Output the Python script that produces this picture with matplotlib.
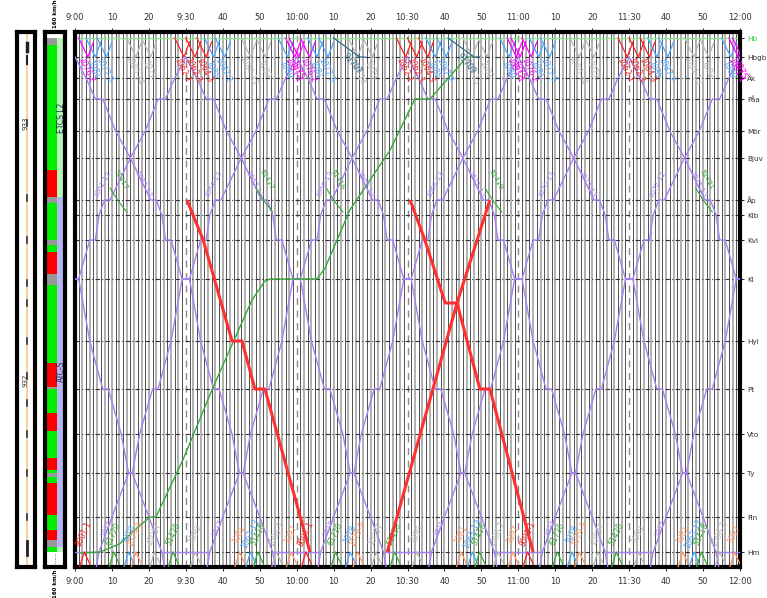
import numpy as np
import matplotlib
matplotlib.use('Agg')
import matplotlib.pyplot as plt

# Stations (position along line, km from Hb)
stations = ['Hb', 'Hbgb', 'Åk', 'Påa', 'Mör', 'Bjuv', 'Åp', 'Klb', 'Kvi', 'Kl',
            'Hyl', 'Pt', 'Vto', 'Ty', 'Fin', 'Hm']
station_km = [0.0, 1.9, 4.0, 6.1, 9.3, 12.0, 16.2, 17.7, 20.2, 24.1,
              30.3, 35.1, 39.6, 43.5, 47.9, 51.4]
km = dict(zip(stations, station_km))

time_ticks = [0, 10, 20, 30, 40, 50, 60, 70, 80, 90, 100, 110, 120, 130, 140, 150, 160, 170, 180]
time_labels = ['9:00', '10', '20', '9:30', '40', '50', '10:00', '10', '20', '10:30', '40', '50',
               '11:00', '10', '20', '11:30', '40', '50', '12:00']

# Regional trains (purple): up train timing relative to crossing at Kl (minutes)
reg_stops = ['Hm', 'Fin', 'Ty', 'Ty', 'Vto', 'Pt', 'Pt', 'Hyl', 'Kl', 'Kl', 'Kvi', 'Kvi',
             'Klb', 'Åp', 'Åp', 'Bjuv', 'Mör', 'Påa', 'Påa', 'Åk', 'Hbgb']
reg_offsets = [-23.5, -20.0, -15.5, -14.5, -12.5, -9.0, -7.5, -4.0, -1.0, 1.0, 4.0, 5.5,
               6.5, 8.0, 9.5, 15.0, 19.0, 22.5, 24.5, 27.0, 30.0]
reg_crossings = [-60, -30, 0, 30, 60, 90, 120, 150, 180, 210, 240]
reg_numbers = ['1059', '1061', '1063', '1065', '1067', '1069', '1071', '1073', '1075', '1077', '1079']

# Red trains (minutes after 9:00, km)
red1_t = [30.3, 34.7, 42.5, 45.2, 48.7, 51.4, 63.6]
red1_km = [16.2, 20.2, 30.3, 30.3, 35.1, 35.1, 51.4]
red2_t = [90.7, 94.7, 100.2, 103.4, 109.6, 112.3, 124.0]
red2_km = [16.2, 20.2, 26.5, 26.5, 35.1, 35.1, 51.4]
red3_t = [84.5, 103.4, 112.3]
red3_km = [51.4, 26.5, 16.2]

# Freight train (green)
frt_t = [1.4, 6.8, 12.0, 16.8, 20.3, 21.9, 29.2, 37.4, 47.9, 51.4, 52.8, 65.5, 67.7, 74.4,
         85.3, 92.0, 96.1, 106.1, 107.7]
frt_km = [51.5, 51.4, 50.6, 49.0, 47.9, 47.9, 42.2, 34.9, 26.2, 24.3, 24.1, 24.1, 23.0, 17.2,
          11.2, 6.1, 6.1, 1.9, 1.9]

# Short freight moves at Åp (green)
apg_t = [11.5, 51.0, 70.0, 113.0, 170.0]
apg_labels = ['51417', '51417', '51418', '51419', '51421']

# Hourly pattern of short moves near Hb-Hbgb
top_min = [-2, 1, 3, 6, 14, 18, 27, 30, 33, 35, 38, 45, 49, 55, 57]
top_col = ['#ff00ff', '#ff00ff', '#4da6ff', '#4da6ff', '#b8b8b8', '#b8b8b8', '#ff2020', '#ff2020',
           '#ff2020', '#4da6ff', '#4da6ff', '#b8b8b8', '#b8b8b8', '#4da6ff', '#ff00ff']
top_lab = ['1075', '1076-2', '1081', '1077-5', '1080-14', '1079', '1062-1', '1062-3', '1064-3',
           '1085', '1087-2', '1084-13', '1083', '1089', '1091-1']
teal_t = [70, 101]
teal_lab = ['91707', '91709']

# Hourly pattern near Hm
bot_min = [1, 9, 13, 15, 20, 25, 31, 43, 46, 48, 53, 57]
bot_col = ['#ff2020', '#33aa33', '#4da6ff', '#ff9966', '#b8b8b8', '#33aa33', '#b8b8b8',
           '#ff9966', '#4da6ff', '#33aa33', '#b8b8b8', '#ff9966']
bot_lab = ['8001-1', '61720', '1078', '1079-9', '10097', '51420', '1090', '1081', '1063-13',
           '51418', '1096-2', '1097']

# Left panel: signalling / speed bar segments (km from, km to, type)
seg_from = [0.0, 0.7, 13.2, 15.9, 16.5, 20.2, 20.7, 21.4, 23.6, 24.7, 32.5, 34.9, 35.1, 37.5,
            39.3, 42.0, 43.2, 43.5, 43.9, 44.5, 47.7, 49.2, 50.2, 50.9]
seg_to = [0.7, 13.2, 15.9, 16.5, 20.2, 20.7, 21.4, 23.6, 24.7, 32.5, 34.9, 35.1, 37.5, 39.3,
          42.0, 43.2, 43.5, 43.9, 44.5, 47.7, 49.2, 50.2, 50.9, 51.4]
seg_type = ['gray', 'green', 'red', 'gray', 'green', 'gray', 'green', 'red', 'gray', 'green',
            'red', 'gray', 'green', 'red', 'green', 'red', 'green', 'gray', 'green', 'red',
            'green', 'red', 'gray', 'green']
sys_from = [0.0, 15.9, 50.9]
sys_to = [15.9, 50.9, 51.4]
sys_name = ['ETCS L2', 'ATC-S', '']
track_marks = [8.5, 16.0, 20.2, 24.5, 26.5, 30.3, 33.8, 36.5, 39.6, 43.5, 47.9]

PURPLE = '#a77ff7'
YTOP, YBOT = -0.6, 52.9

fig = plt.figure(figsize=(7.67, 5.98), dpi=100)
W, H = 767.0, 598.0
def rect(x0, x1, y0, y1):
    return [x0 / W, 1 - y1 / H, (x1 - x0) / W, (y1 - y0) / H]

ax = fig.add_axes(rect(75, 740, 32, 567))
axA = fig.add_axes(rect(17, 35, 32, 567))
axB = fig.add_axes(rect(45, 65, 32, 567))

# --- main grid: one line per minute, gray on even, black on odd ---
for m in range(1, 180):
    if m % 30 == 0:
        ax.axvline(m, color='#8a8a8a', lw=1.0, ls=(0, (5, 4)), zorder=1)
    elif m % 2 == 0:
        ax.axvline(m, color='#b0b0b0', lw=1.4, zorder=1)
    else:
        ax.axvline(m, color='#222222', lw=0.55, zorder=1)
for s, k in zip(stations, station_km):
    if s == 'Hb':
        ax.axhline(k, color='#8fe88f', lw=1.0, zorder=2)
    else:
        ax.axhline(k, color='#333333', lw=0.8, ls=(0, (4, 2, 1, 2)), zorder=2)

# --- regional trains ---
for T, num in zip(reg_crossings, reg_numbers):
    tu = [T + o for o in reg_offsets]
    ku = [km[s] for s in reg_stops]
    ax.plot([T - 24.5] + tu, [53.5] + ku, color=PURPLE, lw=1.0, zorder=4)
    td = [T - o for o in reg_offsets]
    ax.plot([T + 24.5] + td, [53.5] + ku, color=PURPLE, lw=1.0, zorder=4)
    ax.plot([T + 23.5, T + 36], [km['Hm'], km['Hm']], color=PURPLE, lw=1.0, zorder=4)
    if 0 < T - 10 < 178:
        ax.text(T - 11.5, 14.6, num + '-13', color=PURPLE, fontsize=5, rotation=-62,
                ha='center', va='center', zorder=6)
    if 0 < T + 9 < 178:
        ax.text(T + 7.5, 14.6, str(int(num) - 1) + '-12', color=PURPLE, fontsize=5, rotation=62,
                ha='center', va='center', zorder=6)
    if 0 < T - 21 < 178:
        ax.text(T - 21.5, 49.0, str(int(num) - 50), color=PURPLE, fontsize=5, rotation=65,
                ha='center', va='center', zorder=6)

# --- green freight ---
ax.plot(frt_t, frt_km, color='#33aa33', lw=1.0, zorder=5)
for t, lab in zip(apg_t, apg_labels):
    ax.plot([t - 2, t, t + 2.5], [15.0, 16.2, 17.4], color='#33aa33', lw=0.8, zorder=6)
    ax.text(t + 1, 14.2, lab, color='#33aa33', fontsize=5, rotation=-60, ha='center',
            va='center', zorder=6)

# --- red trains ---
for tt, kk in [(red1_t, red1_km), (red2_t, red2_km), (red3_t, red3_km)]:
    ax.plot(tt, kk, color='#ff3030', lw=2.2, zorder=7, solid_capstyle='butt')

# --- terminal moves ---
for h in [0, 60, 120, 180]:
    for m, c, lab in zip(top_min, top_col, top_lab):
        t = h + m
        if t < -1 or t > 180:
            continue
        ax.plot([t, t + 2.5, t + 4], [0.0, 1.9, 0.4], color=c, lw=0.9, zorder=5)
        ax.text(t + 2, 3.2, lab, color=c, fontsize=5.5, rotation=-65, ha='center', va='center',
                zorder=6)
    for m, c, lab in zip(bot_min, bot_col, bot_lab):
        t = h + m
        if t < 0 or t > 178:
            continue
        ax.plot([t, t + 1.5, t + 3], [53.2, 51.4, 52.6], color=c, lw=0.9, zorder=5)
        ax.text(t + 1.5, 49.6, lab, color=c, fontsize=5.5, rotation=65, ha='center', va='center',
                zorder=6)
for t, lab in zip(teal_t, teal_lab):
    ax.plot([t, t + 7, t + 8.5], [0.0, 1.9, 1.9], color='#2e6f8e', lw=0.9, zorder=5)
    ax.text(t + 5, 2.6, lab, color='#2e6f8e', fontsize=5.5, rotation=-50, ha='center',
            va='center', zorder=6)

ax.set_xlim(0, 180)
ax.set_ylim(YBOT, YTOP)
ax.set_xticks(time_ticks)
ax.set_xticklabels(time_labels, fontsize=6, color='#333333')
ax.tick_params(axis='x', top=True, labeltop=True, bottom=True, labelbottom=True,
               length=3, width=0.6, pad=4)
ax.yaxis.tick_right()
ax.set_yticks(station_km)
ax.set_yticklabels(stations, fontsize=5.2, color='#333333')
ax.get_yticklabels()[0].set_color('#33cc33')
ax.tick_params(axis='y', length=3, width=0.6, pad=2)
for sp in ax.spines.values():
    sp.set_linewidth(3)

# --- panel A: track ---
axA.axvline(0.55, color='#f7c790', lw=1.2)
for k in track_marks:
    axA.plot([0.55, 0.55], [k - 0.3, k + 0.3], color='#333333', lw=1.2)
axA.plot([0.55, 0.55], [0.5, 1.3], color='#222222', lw=2.5)
axA.plot([0.55, 0.55], [1.8, 2.6], color='#222222', lw=1.5)
axA.plot([0.55, 0.55], [50.3, 51.7], color='#222222', lw=2.0)
axA.text(0.45, 8.5, '933', fontsize=5, rotation=90, ha='center', va='center', color='#333333')
axA.text(0.45, 34.2, '932', fontsize=5, rotation=90, ha='center', va='center', color='#333333')
axA.set_xlim(0, 1)
axA.set_ylim(YBOT, YTOP)
axA.set_xticks([])
axA.set_yticks([])
for sp in axA.spines.values():
    sp.set_linewidth(3)

# --- panel B: speed / signalling ---
colmap = {'green': '#00ee00', 'red': '#ff0000', 'gray': '#999999'}
for a, b, c in zip(seg_from, seg_to, seg_type):
    axB.fill_between([0.08, 0.6], a, b, color=colmap[c], lw=0)
syscol = {'ETCS L2': '#b8f5b8', 'ATC-S': '#b5b5f2', '': '#b8f5b8'}
for a, b, n in zip(sys_from, sys_to, sys_name):
    axB.fill_between([0.6, 0.88], a, b, color=syscol[n], lw=0)
    if n:
        axB.text(0.8, (a + b) / 2 if n == 'ETCS L2' else 33.3, n, fontsize=5.5, rotation=90,
                 ha='center', va='center', color='#222244')
axB.plot([0.5, 0.5], [51.6, 52.8], color='#555555', lw=0.6, ls=':')
axB.set_xlim(0, 1)
axB.set_ylim(YBOT, YTOP)
axB.set_xticks([])
axB.set_yticks([])
for sp in axB.spines.values():
    sp.set_linewidth(3)
fig.text(55 / W, 1 - 14 / H, '160 km/h', fontsize=4, rotation=90, ha='center', va='center',
         fontweight='bold')
fig.text(55 / W, 1 - 584 / H, '160 km/h', fontsize=4, rotation=90, ha='center', va='center',
         fontweight='bold')

fig.savefig('out.png', dpi=100)
